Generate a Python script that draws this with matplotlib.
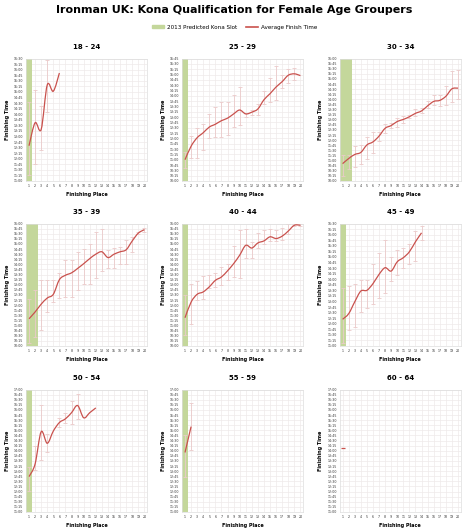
#!/usr/bin/env python
'''
Ironman UK 2013 - Kona qualification for female age groupers.
average finish time per finishing place with min/max range
'''
import numpy
import matplotlib
matplotlib.use('Agg')
import matplotlib.pyplot as plt
from matplotlib.path import Path
from matplotlib.patches import PathPatch, Patch
from matplotlib.lines import Line2D
from matplotlib.ticker import FuncFormatter, MultipleLocator

# finish times in minutes after midnight
groups = ['18 - 24', '25 - 29', '30 - 34', '35 - 39', '40 - 44', '45 - 49',
          '50 - 54', '55 - 59', '60 - 64']
kona_slots = [1, 1, 2, 2, 1, 1, 1, 1, 0]
y_ranges = [(660, 990), (600, 945), (600, 960), (600, 960), (600, 960),
            (660, 990), (660, 1020), (660, 1020), (660, 1020)]

avg_18 = [755, 817, 799, 919, 902, 951]
lo_18 = [675, 705, 743, 845, None, None]
hi_18 = [872, 906, 861, 987, None, None]

avg_25 = [660, 698, 722, 736, 752, 760, 770, 777, 789, 800,
          789, 794, 803, 829, 846, 865, 880, 898, 902, 897]
lo_25 = [636, 666, 666, 688, 722, 724, 724, 731, 751, 758,
         781, 787, 787, 818, 822, 827, 861, 877, 885, None]
hi_25 = [683, 727, 748, 762, 789, 808, 822, 822, 842, 864,
         791, 801, 818, 854, 889, 925, 899, 915, 918, None]

avg_30 = [651, 666, 678, 684, 706, 715, 732, 755, 763, 775,
          781, 789, 799, 806, 821, 834, 837, 849, 871, 873]
lo_30 = [614, 634, 640, 651, 666, 683, 718, 740, 755, 758,
         770, 784, 792, 799, 814, 824, 821, 824, 831, 841]
hi_30 = [676, 676, 703, 706, 728, 743, 743, 767, 772, 786,
         791, 794, 812, 814, 834, 853, 853, 880, 922, 925]

avg_35 = [680, 700, 723, 741, 752, 795, 808, 815, 828, 842,
          857, 870, 877, 860, 870, 877, 883, 909, 932, 942]
lo_35 = [609, 626, 646, 700, 729, 742, 744, 744, 766, 781,
         783, 801, 821, 828, 828, 840, 842, 877, 929, 935]
hi_35 = [739, 766, 793, 793, 793, 815, 854, 854, 875, 886,
         901, 935, 945, 883, 889, 891, 911, 919, 934, 947]

avg_40 = [683, 729, 752, 759, 774, 793, 803, 821, 842, 867,
          896, 888, 903, 909, 921, 916, 923, 938, 955, 955]
lo_40 = [631, 666, 735, 738, 771, 772, 778, 793, 803, 801,
         860, 860, 889, 899, 908, 910, 913, 929, 953, 953]
hi_40 = [751, 783, 791, 805, 808, 815, 832, 840, 893, 940,
         945, 906, 933, 940, 943, 942, 948, 960, 958, 958]

avg_45 = [732, 747, 779, 808, 810, 828, 853, 871, 862, 887,
          898, 914, 941, 965]
lo_45 = [668, 704, 711, 752, 763, 774, 790, 803, 834, 851,
         871, 880, 888, 947]
hi_45 = [817, 821, 828, 837, 837, 880, 911, 947, 900, 918,
         925, 934, 969, 983]

avg_50 = [764, 801, 896, 862, 898, 923, 934, 952, 973, 937, 952, 966]
lo_50 = [723, 784, 813, 835, None, 910, 921, 920, 934, None, None, None]
hi_50 = [791, 855, 976, 889, None, 937, 952, 986, 1007, None, None, None]

avg_55 = [835, 911]
lo_55 = [764, 841]
hi_55 = [887, 981]

avg_60 = [849]
lo_60 = [None]
hi_60 = [None]

averages = [avg_18, avg_25, avg_30, avg_35, avg_40, avg_45, avg_50, avg_55, avg_60]
lows = [lo_18, lo_25, lo_30, lo_35, lo_40, lo_45, lo_50, lo_55, lo_60]
highs = [hi_18, hi_25, hi_30, hi_35, hi_40, hi_45, hi_50, hi_55, hi_60]

GREEN = '#c4d79b'
RED = '#c9514d'
PINK = '#ebcaca'
GRID = '#efeaea'


def hhmm(v, pos=None):
    return '{:d}:{:02d}'.format(int(v) // 60, int(v) % 60)


def smooth_path(x, y):
    '''excel-like smoothed line: catmull-rom segments as cubic beziers'''
    pts = list(zip(x, y))
    verts = [pts[0]]
    codes = [Path.MOVETO]
    n = len(pts)
    for i in range(n - 1):
        p0 = pts[max(i - 1, 0)]
        p1 = pts[i]
        p2 = pts[i + 1]
        p3 = pts[min(i + 2, n - 1)]
        c1 = (p1[0] + (p2[0] - p0[0]) / 6., p1[1] + (p2[1] - p0[1]) / 6.)
        c2 = (p2[0] - (p3[0] - p1[0]) / 6., p2[1] - (p3[1] - p1[1]) / 6.)
        verts += [c1, c2, p2]
        codes += [Path.CURVE4] * 3
    return Path(verts, codes)


fig = plt.figure(figsize=(4.69, 5.30), dpi=100)
fig.patch.set_facecolor('white')

lefts = [0.0554, 0.388, 0.724]
bottoms = [0.6585, 0.3472, 0.034]
width = 0.259
height = 0.231

for k, name in enumerate(groups):
    row, col = divmod(k, 3)
    ax = fig.add_axes([lefts[col], bottoms[row], width, height])
    ymin, ymax = y_ranges[k]
    ax.set_xlim(0.5, 20.5)
    ax.set_ylim(ymin, ymax)

    if kona_slots[k] > 0:
        ax.axvspan(0.5, 0.5 + kona_slots[k], color=GREEN, lw=0, zorder=1)

    avg = averages[k]
    x = numpy.arange(1, len(avg) + 1)
    for xi, a, lo, hi in zip(x, avg, lows[k], highs[k]):
        if lo is None:
            continue
        ax.errorbar([xi], [a], yerr=[[a - lo], [hi - a]], fmt='none',
                    ecolor=PINK, elinewidth=0.6, capsize=1.2, capthick=0.6,
                    zorder=2)
    if len(avg) > 1:
        ax.add_patch(PathPatch(smooth_path(x, avg), fc='none', ec=RED,
                               lw=0.9, zorder=3))
    else:
        ax.plot(x, avg, marker='_', color=RED, ms=3, mew=0.9, ls='none',
                zorder=3)

    ax.yaxis.set_major_locator(MultipleLocator(15))
    ax.yaxis.set_major_formatter(FuncFormatter(hhmm))
    ax.set_xticks(range(1, 21))
    ax.tick_params(axis='both', labelsize=2.3, length=0, pad=2,
                   colors='#333333')
    ax.grid(True, color=GRID, lw=0.5, zorder=0)
    ax.set_axisbelow(True)
    for s in ax.spines.values():
        s.set_color('#dddddd')
        s.set_linewidth(0.5)

    ax.set_title(name, fontsize=5, fontweight='bold', pad=7)
    ax.set_ylabel('Finishing Time', fontsize=3.5, fontweight='bold',
                  labelpad=3)
    ax.set_xlabel('Finishing Place', fontsize=3.5, fontweight='bold',
                  labelpad=3)

fig.text(0.5, 0.981, 'Ironman UK: Kona Qualification for Female Age Groupers',
         ha='center', va='center', fontsize=8, fontweight='bold')

handles = [Patch(color=GREEN, label='2013 Predicted Kona Slot'),
           Line2D([], [], color=RED, lw=1.2, label='Average Finish Time')]
fig.legend(handles=handles, loc='center', bbox_to_anchor=(0.5, 0.949),
           ncol=2, fontsize=4.1, frameon=False, handlelength=2.1,
           handleheight=0.4, columnspacing=1.5, handletextpad=0.6)

fig.savefig('out.png', dpi=100)
